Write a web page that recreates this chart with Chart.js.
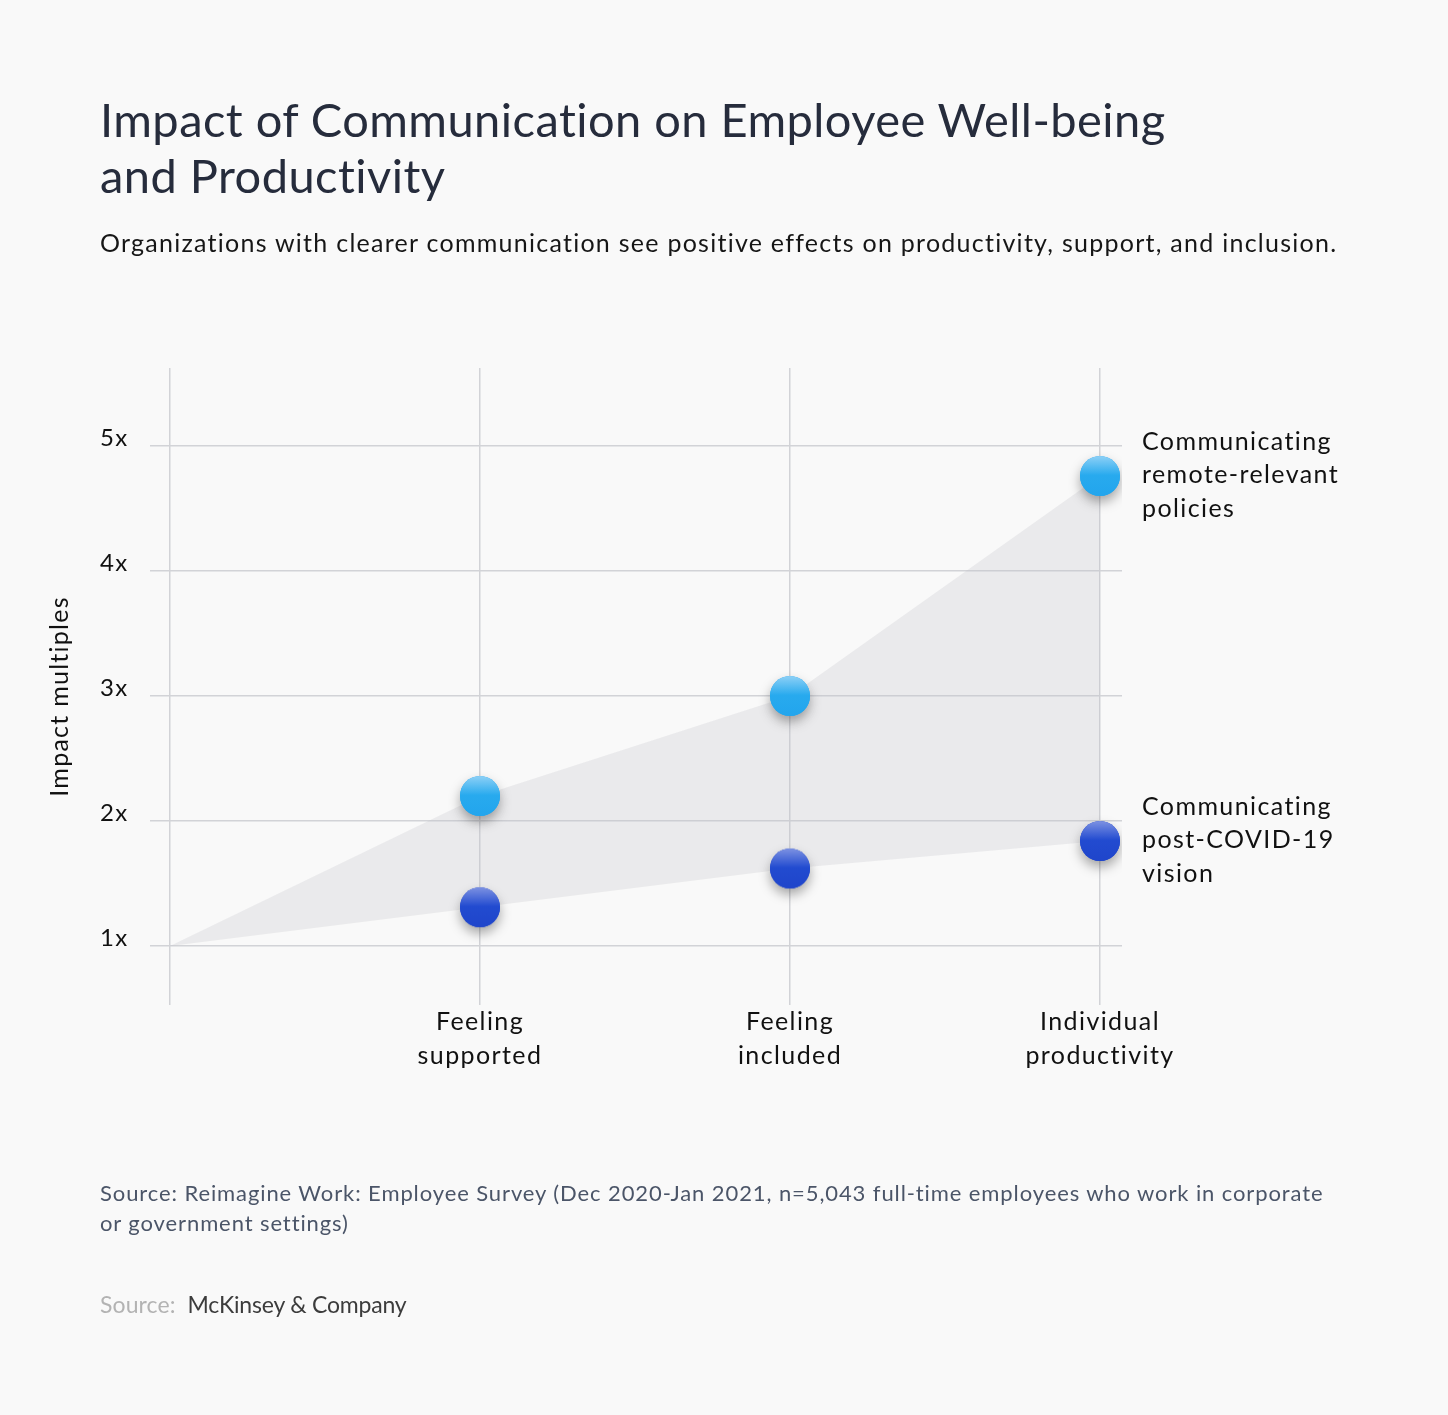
<!DOCTYPE html>
<html><head><meta charset="utf-8">
<script src="https://cdn.jsdelivr.net/npm/chart.js@4.4.1/dist/chart.umd.min.js"></script>
<style>
html,body{margin:0;padding:0;background:#f9f9f9;}
body{width:1448px;height:1415px;position:relative;overflow:hidden;font-family:Lato,sans-serif;}
#wrap{position:absolute;left:0;top:0;width:1448px;height:1415px;}
.t{position:absolute;white-space:nowrap;}
#title{left:100px;top:91px;font-size:47px;line-height:56px;color:#262c3c;letter-spacing:0.45px;}
#sub{left:100px;top:227px;font-size:25px;line-height:30px;color:#161616;letter-spacing:1.26px;}
#note{left:100px;top:1178px;font-size:22px;line-height:30px;color:#4b5568;letter-spacing:0.9px;}
#brand{left:100px;top:1289px;font-size:23px;line-height:30px;}
#brand .s{color:#b3b3b3;margin-right:12px;letter-spacing:0.1px;}
#brand .m{color:#3c3c3c;letter-spacing:-0.2px;}
</style></head>
<body>
<div id="wrap"><canvas id="c"></canvas></div>
<div class="t" id="title">Impact of Communication on Employee Well-being<br>and Productivity</div>
<div class="t" id="sub">Organizations with clearer communication see positive effects on productivity, support, and inclusion.</div>
<div class="t" id="note">Source: Reimagine Work: Employee Survey (Dec 2020-Jan 2021, n=5,043 full-time employees who work in corporate<br>or government settings)</div>
<div class="t" id="brand"><span class="s">Source:</span><span class="m">McKinsey &amp; Company</span></div>
<script>
// ---- data ----
const categories = ['Feeling supported', 'Feeling included', 'Individual productivity'];
const categoryLines = [['Feeling', 'supported'], ['Feeling', 'included'], ['Individual', 'productivity']];
const remotePolicies = [2.2, 3.0, 4.76];
const postCovidVision = [1.31, 1.62, 1.84];
const originValue = 1;
const seriesNames = [['Communicating', 'remote-relevant', 'policies'], ['Communicating', 'post-COVID-19', 'vision']];
const yTickValues = [1, 2, 3, 4, 5];
const yTickLabels = ['1x', '2x', '3x', '4x', '5x'];
const yAxisTitle = 'Impact multiples';

const FONT = 'Lato, sans-serif';

function makeBall(top, mid, bot) {
  const s = 84, c = s / 2, r = 20;
  const cv = document.createElement('canvas');
  cv.width = s; cv.height = s;
  const g = cv.getContext('2d');
  g.save();
  g.shadowColor = 'rgba(0,0,0,0.34)';
  g.shadowBlur = 12;
  g.shadowOffsetY = 6;
  g.beginPath(); g.arc(c, c, r, 0, Math.PI * 2);
  g.fillStyle = bot; g.fill();
  g.restore();
  const gr = g.createLinearGradient(0, c - r, 0, c + r);
  gr.addColorStop(0, top);
  gr.addColorStop(0.48, mid);
  gr.addColorStop(1, bot);
  g.beginPath(); g.arc(c, c, r, 0, Math.PI * 2);
  g.fillStyle = gr; g.fill();
  return cv;
}
const lightBall = makeBall('#8dd0f6', '#28aaee', '#22a5ed');
const darkBall = makeBall('#7d92e2', '#224bd0', '#1f45cb');

function toPoints(vals) {
  return [{x: 0, y: originValue}].concat(vals.map((v, i) => ({x: i + 1, y: v})));
}

const spacingPlugin = {
  id: 'spacing',
  beforeDraw(chart) { chart.ctx.letterSpacing = '1.4px'; }
};

const labelPlugin = {
  id: 'seriesLabels',
  afterDatasetsDraw(chart) {
    const ctx = chart.ctx;
    ctx.save();
    ctx.letterSpacing = '1.4px';
    ctx.font = '25px ' + FONT;
    ctx.fillStyle = '#111111';
    ctx.textAlign = 'left';
    ctx.textBaseline = 'alphabetic';
    [0, 1].forEach(di => {
      const meta = chart.getDatasetMeta(di);
      const el = meta.data[meta.data.length - 1];
      const lines = seriesNames[di];
      const lh = 33.5;
      lines.forEach((ln, k) => {
        ctx.fillText(ln, el.x + 42, el.y + 7 + (k - (lines.length - 1) / 2) * lh);
      });
    });
    // y axis title
    ctx.translate(68, (chart.chartArea.top + chart.chartArea.bottom) / 2 + 10);
    ctx.rotate(-Math.PI / 2);
    ctx.textAlign = 'center';
    ctx.letterSpacing = '1.25px';
    ctx.font = '25px ' + FONT;
    ctx.fillText(yAxisTitle, 0, 0);
    ctx.restore();
  }
};

const fillColor = 'rgba(190,192,200,0.25)';
const gridColor = '#d2d3d7';

new Chart(document.getElementById('c'), {
  type: 'scatter',
  data: {
    datasets: [
      {
        data: toPoints(remotePolicies),
        showLine: true,
        borderWidth: 0,
        borderColor: 'rgba(0,0,0,0)',
        backgroundColor: fillColor,
        fill: 1,
        pointStyle: lightBall,
        pointRadius: ctx => ctx.dataIndex === 0 ? 0 : 20,
        order: 1
      },
      {
        data: toPoints(postCovidVision),
        showLine: true,
        borderWidth: 0,
        borderColor: 'rgba(0,0,0,0)',
        backgroundColor: fillColor,
        fill: false,
        pointStyle: darkBall,
        pointRadius: ctx => ctx.dataIndex === 0 ? 0 : 20,
        order: 0
      }
    ]
  },
  options: {
    responsive: true,
    maintainAspectRatio: false,
    animation: false,
    events: [],
    layout: {padding: {left: 100, right: 326, top: 368, bottom: 330}},
    plugins: {legend: {display: false}, tooltip: {enabled: false}},
    scales: {
      x: {
        type: 'linear',
        min: -0.0645,
        max: 3.071,
        afterBuildTicks: s => { s.ticks = [0, 1, 2, 3].map(v => ({value: v})); },
        afterFit: s => { s.height = 80; },
        grid: {color: gridColor, lineWidth: 1.5, drawTicks: false},
        border: {display: false},
        ticks: {
          padding: 0,
          autoSkip: false,
          maxRotation: 0,
          color: '#111111',
          font: {family: FONT, size: 25, lineHeight: 1.36},
          callback: v => v === 0 ? '' : categoryLines[v - 1]
        }
      },
      y: {
        type: 'linear',
        min: 0.528,
        max: 5.624,
        afterBuildTicks: s => { s.ticks = yTickValues.map(v => ({value: v})); },
        afterFit: s => { s.width = 50; },
        grid: {color: gridColor, lineWidth: 1.5, drawTicks: false},
        border: {display: false},
        ticks: {
          crossAlign: 'far',
          labelOffset: -8,
          color: '#111111',
          font: {family: FONT, size: 24},
          callback: v => yTickLabels[yTickValues.indexOf(v)]
        }
      }
    }
  },
  plugins: [spacingPlugin, labelPlugin]
});
</script>
</body></html>
